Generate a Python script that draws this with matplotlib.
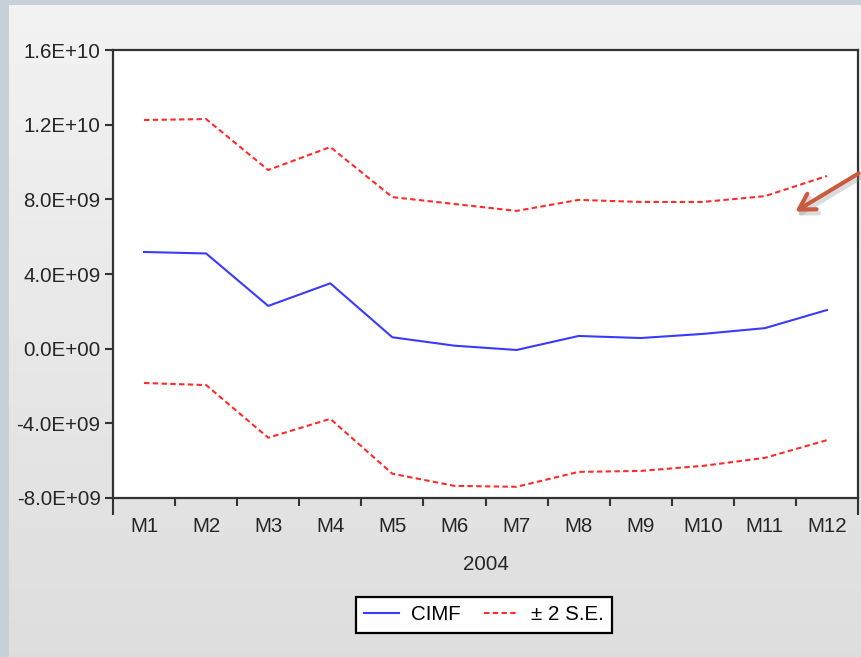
import numpy as np
import matplotlib.pyplot as plt
from matplotlib.patches import Rectangle, FancyArrowPatch

plt.rcParams['font.family'] = ['Liberation Sans', 'DejaVu Sans']

months = ['M1', 'M2', 'M3', 'M4', 'M5', 'M6', 'M7', 'M8', 'M9', 'M10', 'M11', 'M12']
cimf = [5.18e9, 5.10e9, 2.29e9, 3.50e9, 0.61e9, 0.16e9, -0.07e9, 0.68e9, 0.57e9, 0.79e9, 1.10e9, 2.07e9]
upper = [12.25e9, 12.30e9, 9.57e9, 10.80e9, 8.12e9, 7.75e9, 7.38e9, 7.97e9, 7.86e9, 7.86e9, 8.17e9, 9.25e9]
lower = [-1.84e9, -1.95e9, -4.77e9, -3.76e9, -6.70e9, -7.35e9, -7.40e9, -6.60e9, -6.55e9, -6.28e9, -5.85e9, -4.90e9]
yticks = [-8e9, -4e9, 0, 4e9, 8e9, 1.2e10, 1.6e10]
ytick_labels = ['-8.0E+09', '-4.0E+09', '0.0E+00', '4.0E+09', '8.0E+09', '1.2E+10', '1.6E+10']

W, H = 861, 657
FS = 14.8
TXT = '#262626'
fig = plt.figure(figsize=(W / 100, H / 100), dpi=100)

# window background: grey gradient with a blue-grey frame on left/top
bg = fig.add_axes([0, 0, 1, 1], zorder=-10)
grad = np.linspace(0, 1, 256).reshape(-1, 1)
top_c = np.array([0.953, 0.953, 0.953])
bot_c = np.array([0.870, 0.870, 0.870])
img = top_c + grad[..., None] * (bot_c - top_c)
bg.imshow(img, aspect='auto', extent=[0, 1, 0, 1], origin='upper')
bg.add_patch(Rectangle((0, 0), 9 / W, 1, color='#c6d1d8', lw=0))
bg.add_patch(Rectangle((0, 1 - 5 / H), 1, 5 / H, color='#c6d1d8', lw=0))
bg.set_xlim(0, 1)
bg.set_ylim(0, 1)
bg.axis('off')

ax = fig.add_axes([113 / W, 1 - 498 / H, 745 / W, 448 / H])
ax.set_facecolor('white')

x = np.arange(len(months)) + 0.5
ax.plot(x, cimf, color='#3a3aff', lw=1.5, label='CIMF')
ax.plot(x, upper, color='#ff2a2a', lw=1.5, ls=(0, (2.6, 1.6)), label='\u00b1 2 S.E.')
ax.plot(x, lower, color='#ff2a2a', lw=1.5, ls=(0, (2.6, 1.6)))

ax.set_xlim(0, len(months))
ax.set_ylim(-8e9, 1.6e10)

ax.set_yticks(yticks)
ax.set_yticklabels(ytick_labels)
ax.tick_params(axis='y', length=6, width=1.5, color='#333333', labelsize=FS,
               labelcolor=TXT, pad=3)

# month labels in the middle of each period, tick marks at the boundaries
ax.set_xticks(x)
ax.set_xticklabels(months)
ax.tick_params(axis='x', which='major', length=0, labelsize=FS,
               labelcolor=TXT, pad=14)
ax.set_xticks(np.arange(1, len(months)), minor=True)
ax.tick_params(axis='x', which='minor', length=6, width=1.5, color='#333333')
ends = ax.secondary_xaxis('bottom')
ends.set_xticks([0, len(months)])
ends.set_xticklabels(['', ''])
ends.tick_params(length=12, width=1.5, color='#333333')
ends.spines['bottom'].set_visible(False)

ax.set_xlabel('2004', fontsize=FS, color=TXT, labelpad=13)

for s in ax.spines.values():
    s.set_linewidth(1.6)
    s.set_color('#333333')

leg = fig.legend(loc='center', bbox_to_anchor=(484 / W, 1 - 615 / H), ncol=2,
                 fontsize=FS, frameon=True, fancybox=False, handlelength=1.7,
                 columnspacing=1.1, handletextpad=0.6, borderpad=0.42,
                 borderaxespad=0)
leg.get_frame().set_edgecolor('black')
leg.get_frame().set_linewidth(1.6)
leg.get_frame().set_facecolor('white')
leg.get_frame().set_alpha(1)

# pointer arrow with a soft shadow
tail = (1.0, 1 - 172 / H)
head = (793 / W, 1 - 213 / H)
style = '->,head_length=11,head_width=6.5'
shadow = FancyArrowPatch((tail[0] + 2 / W, tail[1] - 4 / H), (head[0] + 2 / W, head[1] - 4 / H),
                         transform=fig.transFigure, arrowstyle=style,
                         color='#8a8a8a', lw=3.2, alpha=0.3)
arrow = FancyArrowPatch(tail, head, transform=fig.transFigure, arrowstyle=style,
                        color='#c95b3f', lw=3)
fig.patches.extend([shadow, arrow])

fig.savefig('out.png', dpi=100)
